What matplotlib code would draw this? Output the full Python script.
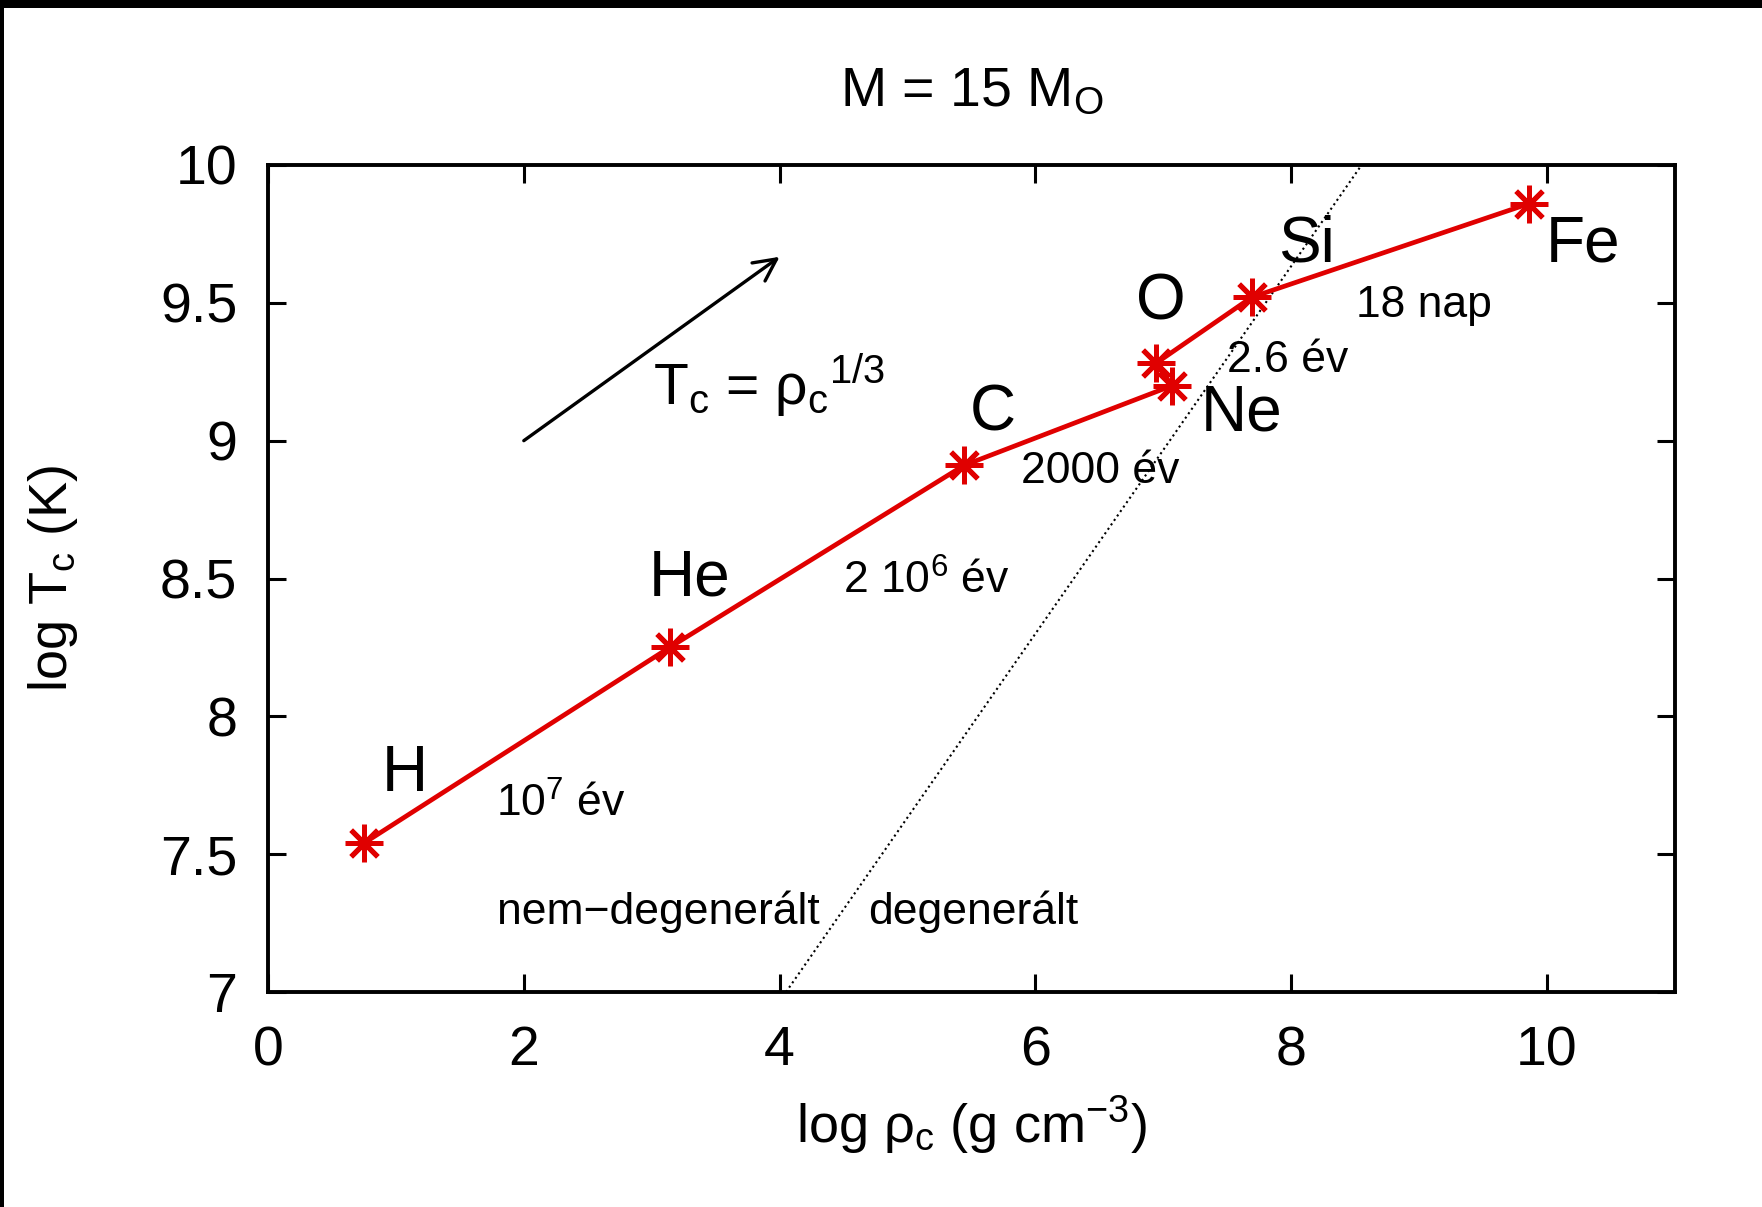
import matplotlib
matplotlib.use("Agg")
import matplotlib.pyplot as plt
from matplotlib.patches import Rectangle

# Central density / temperature of the burning stages of a 15 solar-mass star
stages = ["H", "He", "C", "Ne", "O", "Si", "Fe"]
log_rho = [0.75, 3.14, 5.44, 7.07, 6.94, 7.69, 9.86]
log_T = [7.54, 8.25, 8.91, 9.20, 9.28, 9.52, 9.86]

# Stage labels and their positions (data coordinates)
stage_label_x = [1.07, 3.30, 5.67, 7.61, 6.98, 8.12, 10.28]
stage_label_y = [7.79, 8.50, 9.10, 9.10, 9.50, 9.71, 9.71]

# Burning time-scales
durations = ["10$^{7}$ év", "2 10$^{6}$ év", "2000 év", "2.6 év", "18 nap"]
duration_x = [2.29, 5.15, 6.51, 7.97, 9.04]
duration_y = [7.68, 8.49, 8.89, 9.29, 9.49]

# Degeneracy border: log T = 2/3 log rho + const
degen_rho = [4.05, 8.55]
degen_T = [7.0, 10.0]

# Slope indicator T ~ rho^(1/3)
arrow_start = (2.0, 9.0)
arrow_end = (4.0, 9.667)

xticks = [0, 2, 4, 6, 8, 10]
yticks = [7, 7.5, 8, 8.5, 9, 9.5, 10]
yticklabels = ["7", "7.5", "8", "8.5", "9", "9.5", "10"]

plt.rcParams["font.family"] = ["Liberation Sans", "DejaVu Sans"]
plt.rcParams["mathtext.fontset"] = "custom"
plt.rcParams["mathtext.rm"] = "Liberation Sans"
plt.rcParams["mathtext.it"] = "Liberation Sans"
plt.rcParams["mathtext.bf"] = "Liberation Sans"

fig = plt.figure(figsize=(17.62, 12.07), dpi=100)
ax = fig.add_axes([0.1521, 0.1781, 0.9506 - 0.1521, 0.8633 - 0.1781])

# dark scan edges along the top and left border
fig.patches.append(Rectangle((0, 1 - 8 / 1207), 1, 8 / 1207, transform=fig.transFigure,
                             facecolor="black", edgecolor="none", zorder=10))
fig.patches.append(Rectangle((0, 0), 4 / 1762, 1, transform=fig.transFigure,
                             facecolor="black", edgecolor="none", zorder=10))

ax.plot(degen_rho, degen_T, color="black", linestyle=(0, (1, 1.6)), linewidth=1.5)

ax.plot(log_rho, log_T, color="#e00000", linewidth=3.4, marker=(8, 2, 0),
        markersize=27, markeredgewidth=3.6, markeredgecolor="#e00000", zorder=3)

ax.annotate("", xy=arrow_end, xytext=arrow_start,
            arrowprops=dict(arrowstyle="->", color="black", lw=2.4,
                            mutation_scale=40, shrinkA=0, shrinkB=0))

for name, x, y in zip(stages, stage_label_x, stage_label_y):
    ax.text(x, y, name, fontsize=46, ha="center", va="center")

for txt, x, y in zip(durations, duration_x, duration_y):
    ax.text(x, y, txt, fontsize=32, ha="center", va="center")

ax.text(3.01, 9.20, "T$_{\\rm c}$ = ρ$_{\\rm c}$$^{1/3}$", fontsize=41,
        ha="left", va="center")
ax.text(3.05, 7.29, "nem\u2212degenerált", fontsize=32, ha="center", va="center")
ax.text(5.51, 7.29, "degenerált", fontsize=32, ha="center", va="center")

ax.set_xlim(0, 11)
ax.set_ylim(7, 10)
ax.set_xticks(xticks)
ax.set_yticks(yticks)
ax.set_yticklabels(yticklabels)
ax.tick_params(direction="in", length=13, width=2.2, labelsize=40,
               top=True, right=True, pad=22)
ax.tick_params(axis="x", pad=24)
for sp in ax.spines.values():
    sp.set_linewidth(2.8)

ax.set_xlabel("log ρ$_{\\rm c}$ (g cm$^{-3}$)", fontsize=39, labelpad=12)
ax.set_ylabel("log T$_{\\rm c}$ (K)", fontsize=39, labelpad=58)
ax.set_title("M = 15 M$_{\\rm O}$", fontsize=40, pad=42)

fig.savefig("out.png", dpi=100, facecolor="white")
